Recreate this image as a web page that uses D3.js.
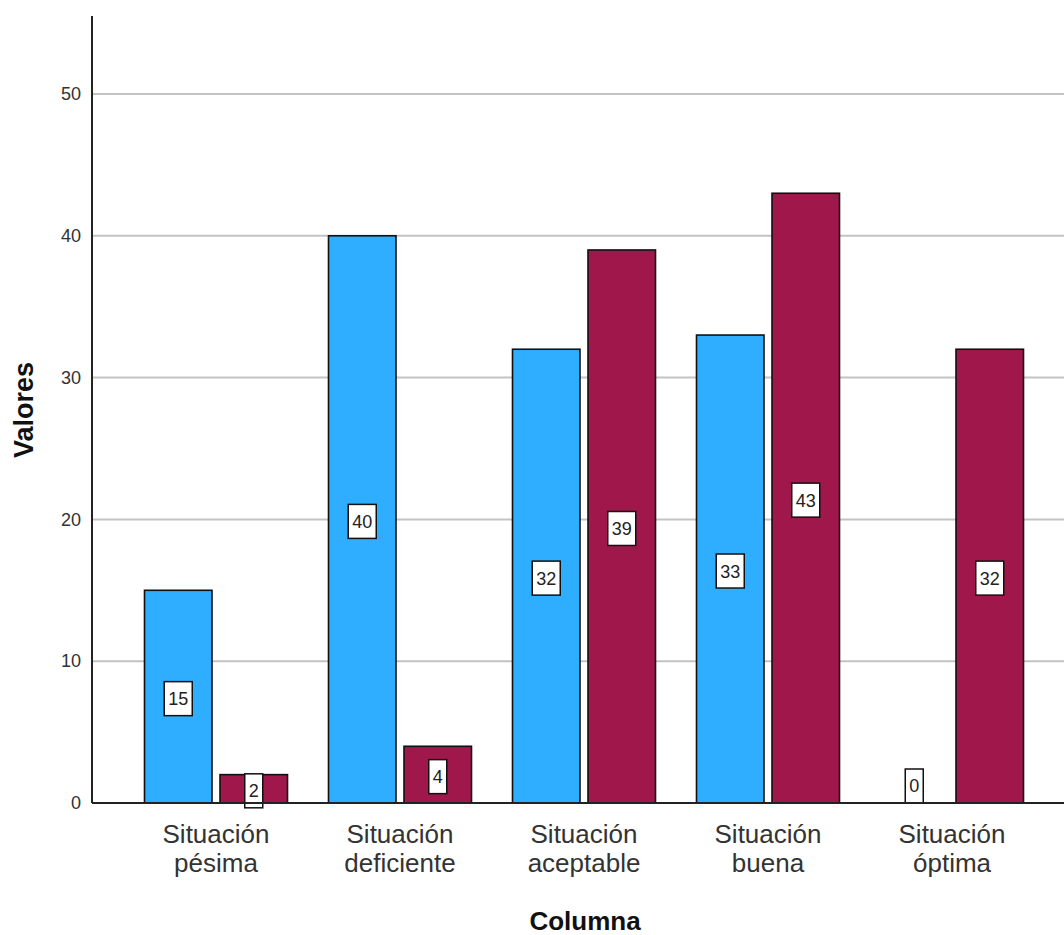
<!DOCTYPE html>
<html>
<head>
<meta charset="utf-8">
<script src="https://cdn.jsdelivr.net/npm/d3@7"></script>
<style>
  body { margin: 0; background: #fff; }
  svg { display: block; }
  text { font-family: "Liberation Sans", Arial, sans-serif; }
</style>
</head>
<body>
<svg id="chart" width="1064" height="935"></svg>
<script>
// ---- data ----
const categories = ["Situación pésima", "Situación deficiente", "Situación aceptable", "Situación buena", "Situación óptima"];
const seriesNames = ["Serie 1", "Serie 2"];
const seriesA = [15, 40, 32, 33, 0];
const seriesB = [2, 4, 39, 43, 32];
const yTicks = [0, 10, 20, 30, 40, 50];
const seriesColors = ["#2FADFF", "#A0184B"];
const yTitle = "Valores";
const xTitle = "Columna";

// ---- layout ----
const svg = d3.select("#chart");
const axisX0 = 92, baseY = 803, topY = 16, rightX = 1064;

const y = d3.scaleLinear().domain([0, 55.5]).range([baseY, topY]);
const x = d3.scaleBand().domain(categories).range([124, 1044]).padding(0);
const xSub = d3.scaleBand().domain(seriesNames).range([-71.5, 71.5]).paddingInner(0.106);

// gridlines
svg.append("g").selectAll("line")
  .data(yTicks.filter(t => t > 0))
  .join("line")
  .attr("x1", axisX0).attr("x2", rightX)
  .attr("y1", d => y(d)).attr("y2", d => y(d))
  .attr("stroke", "#c3c3c3").attr("stroke-width", 2);

// y axis
const yAxis = d3.axisLeft(y).tickValues(yTicks).tickSize(0).tickPadding(11);
const gy = svg.append("g").attr("transform", `translate(${axisX0},0)`).call(yAxis);
gy.select(".domain").remove();
gy.selectAll("text").attr("font-size", 18).attr("fill", "#333")
  .attr("font-family", "'Liberation Sans', Arial, sans-serif");

// data rows
const rows = categories.map((c, i) => ({ cat: c, vals: [seriesA[i], seriesB[i]] }));

const groups = svg.append("g").selectAll("g")
  .data(rows).join("g")
  .attr("transform", d => `translate(${x(d.cat) + x.bandwidth() / 2},0)`);

groups.selectAll("rect")
  .data(d => d.vals.map((v, k) => ({ v, k })))
  .join("rect")
  .attr("x", d => xSub(seriesNames[d.k]))
  .attr("width", xSub.bandwidth())
  .attr("y", d => y(d.v))
  .attr("height", d => baseY - y(d.v))
  .attr("fill", d => seriesColors[d.k])
  .attr("stroke", "#111")
  .attr("stroke-width", 1.6);

// x axis line
svg.append("line")
  .attr("x1", axisX0).attr("x2", rightX)
  .attr("y1", baseY).attr("y2", baseY)
  .attr("stroke", "#222").attr("stroke-width", 2);
// y axis line
svg.append("line")
  .attr("x1", axisX0).attr("x2", axisX0)
  .attr("y1", topY).attr("y2", baseY)
  .attr("stroke", "#222").attr("stroke-width", 2);

// value labels
const boxH = 34;
const labels = groups.selectAll("g.lbl")
  .data(d => d.vals.map((v, k) => ({ v, k })))
  .join("g").attr("class", "lbl")
  .attr("transform", d => {
    const cx = xSub(seriesNames[d.k]) + xSub.bandwidth() / 2;
    const cy = d.v === 0 ? baseY - boxH / 2 : y(d.v / 2) + 2;
    return `translate(${cx},${cy})`;
  });
labels.append("rect")
  .attr("x", d => -(String(d.v).length === 1 ? 18 : 28) / 2)
  .attr("width", d => (String(d.v).length === 1 ? 18 : 28))
  .attr("y", -boxH / 2).attr("height", boxH)
  .attr("fill", "#fff").attr("stroke", "#111").attr("stroke-width", 1.5);
labels.append("text")
  .attr("text-anchor", "middle")
  .attr("dy", "0.36em")
  .attr("font-size", 18)
  .attr("fill", "#222")
  .text(d => d.v);

// x category labels
const xAxis = d3.axisBottom(x).tickSize(0).tickFormat("");
const gx = svg.append("g").attr("transform", `translate(0,${baseY})`).call(xAxis);
gx.select(".domain").remove();
gx.selectAll(".tick").each(function (d) {
  const parts = d.split(" ");
  const t = d3.select(this).append("text")
    .attr("text-anchor", "middle")
    .attr("font-size", 26)
    .attr("fill", "#333")
    .attr("font-family", "'Liberation Sans', Arial, sans-serif");
  parts.forEach((p, i) => {
    t.append("tspan").attr("x", 0).attr("y", 40 + i * 29).text(p);
  });
});

// axis titles
svg.append("text")
  .attr("transform", "translate(33,410) rotate(-90)")
  .attr("text-anchor", "middle")
  .attr("font-size", 27).attr("font-weight", "bold").attr("fill", "#111")
  .text(yTitle);
svg.append("text")
  .attr("x", 585).attr("y", 930)
  .attr("text-anchor", "middle")
  .attr("font-size", 26).attr("font-weight", "bold").attr("fill", "#111")
  .text(xTitle);
</script>
</body>
</html>
